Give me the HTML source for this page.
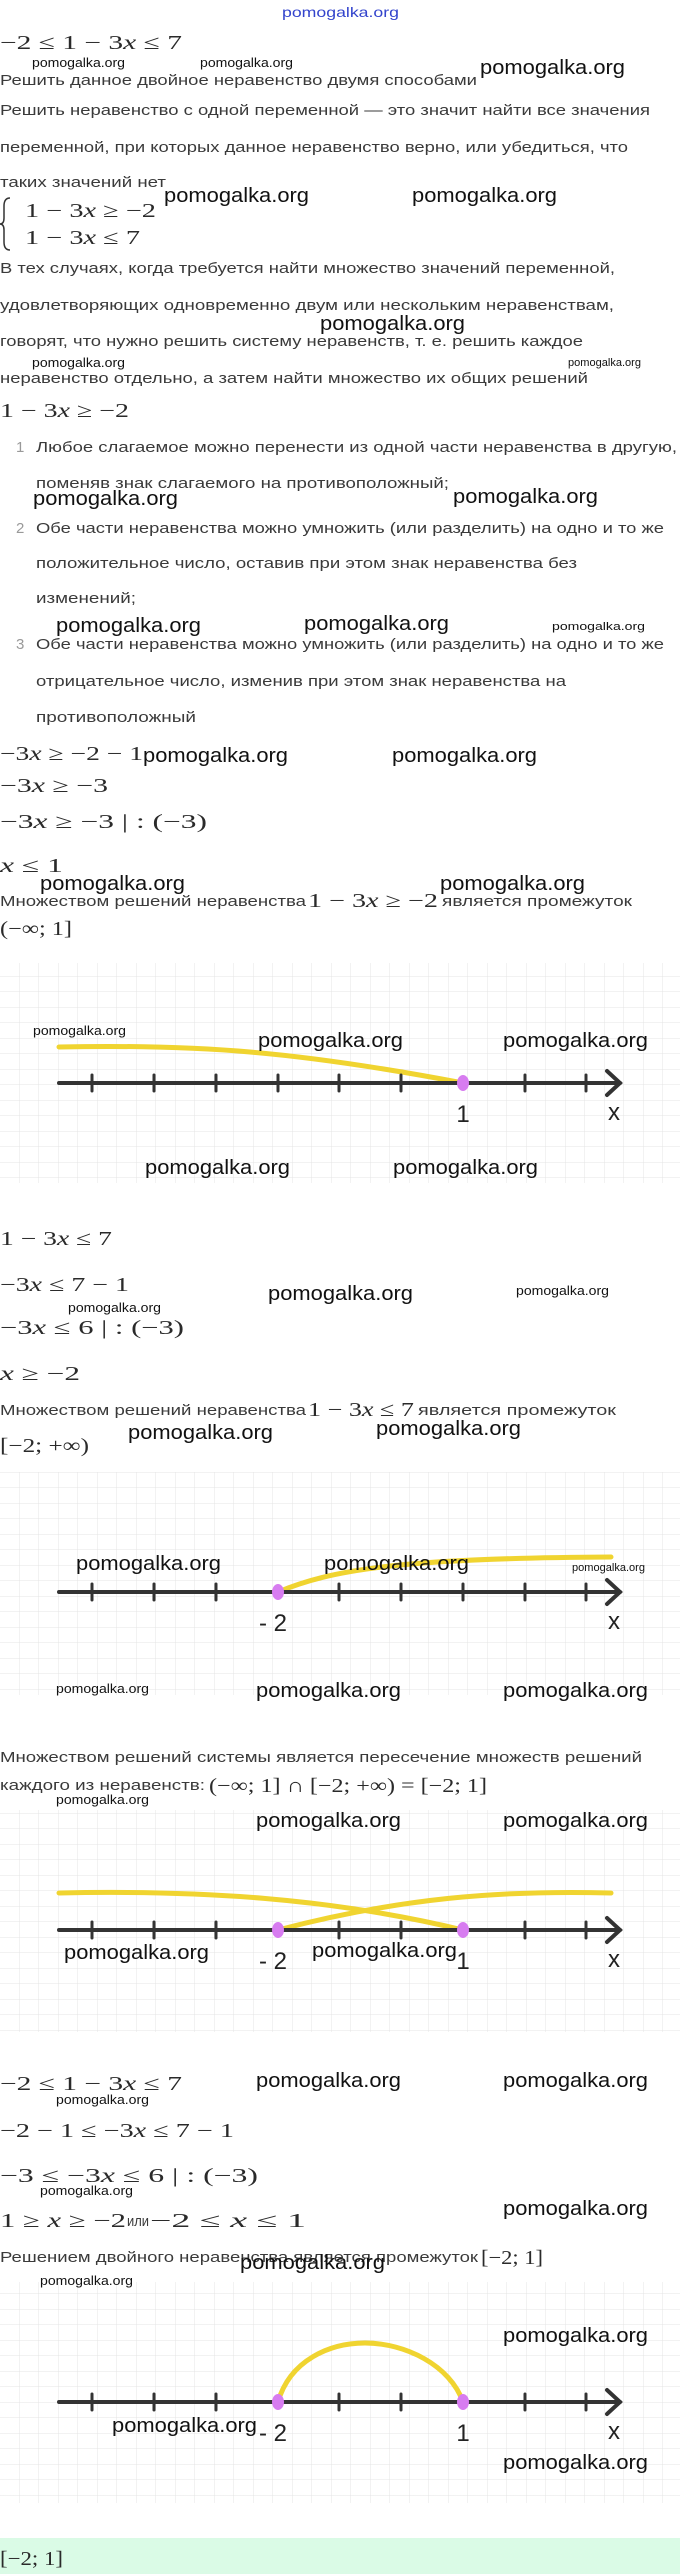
<!DOCTYPE html>
<html><head><meta charset="utf-8"><style>
html,body{margin:0;padding:0;background:#fff;}
svg{display:block}
.t{font-family:"Liberation Sans",sans-serif;font-size:15px;fill:#3a3a3a}
.m{font-family:"Liberation Serif",serif;font-size:20px;fill:#2a2a2a}
.i{font-style:italic}
.wb{font-family:"Liberation Sans",sans-serif;font-size:20px;fill:#111}
.ws{font-family:"Liberation Sans",sans-serif;font-size:13px;fill:#111}
.wx{font-family:"Liberation Sans",sans-serif;font-size:11px;fill:#111}
.n{font-family:"Liberation Sans",sans-serif;font-size:15px;fill:#999}
.lab{font-family:"Liberation Sans",sans-serif;font-size:24px;fill:#222}
</style></head><body>
<svg width="680" height="2574" viewBox="0 0 680 2574" xmlns="http://www.w3.org/2000/svg">
<defs>
<pattern id="g" width="19.5" height="15.5" patternUnits="userSpaceOnUse">
<path d="M19.5 0V15.5M0 15.5H19.5" stroke="#e4e4e4" stroke-width="1" fill="none"/>
</pattern>
</defs>
<rect width="680" height="2574" fill="#fff"/>

<text x="282" y="17" textLength="117" lengthAdjust="spacingAndGlyphs" font-family="Liberation Sans,sans-serif" font-size="14" fill="#3344cc">pomogalka.org</text>

<!-- top section -->
<text class="m" x="0" y="49" textLength="182" lengthAdjust="spacingAndGlyphs">−2 ≤ 1 − 3<tspan class="i">x</tspan> ≤ 7</text>
<text class="ws" x="32" y="67" textLength="93" lengthAdjust="spacingAndGlyphs">pomogalka.org</text>
<text class="ws" x="200" y="67" textLength="93" lengthAdjust="spacingAndGlyphs">pomogalka.org</text>
<text class="wb" x="480" y="74" textLength="145" lengthAdjust="spacingAndGlyphs">pomogalka.org</text>
<text class="t" x="0" y="85" textLength="477" lengthAdjust="spacingAndGlyphs">Решить данное двойное неравенство двумя способами</text>
<text class="t" x="0" y="115" textLength="650" lengthAdjust="spacingAndGlyphs">Решить неравенство с одной переменной — это значит найти все значения</text>
<text class="t" x="0" y="152" textLength="628" lengthAdjust="spacingAndGlyphs">переменной, при которых данное неравенство верно, или убедиться, что</text>
<text class="t" x="0" y="187" textLength="166" lengthAdjust="spacingAndGlyphs">таких значений нет</text>
<text class="wb" x="164" y="202" textLength="145" lengthAdjust="spacingAndGlyphs">pomogalka.org</text>
<text class="wb" x="412" y="202" textLength="145" lengthAdjust="spacingAndGlyphs">pomogalka.org</text>
<path d="M10 198 Q4 198 4 206 L4 218 Q4 224 0 224 Q4 224 4 230 L4 242 Q4 250 10 250" stroke="#333" stroke-width="1.5" fill="none"/>
<text class="m" x="25" y="217" textLength="131" lengthAdjust="spacingAndGlyphs">1 − 3<tspan class="i">x</tspan> ≥ −2</text>
<text class="m" x="25" y="244" textLength="115" lengthAdjust="spacingAndGlyphs">1 − 3<tspan class="i">x</tspan> ≤ 7</text>
<text class="t" x="0" y="273" textLength="615" lengthAdjust="spacingAndGlyphs">В тех случаях, когда требуется найти множество значений переменной,</text>
<text class="t" x="0" y="310" textLength="614" lengthAdjust="spacingAndGlyphs">удовлетворяющих одновременно двум или нескольким неравенствам,</text>
<text class="wb" x="320" y="330" textLength="145" lengthAdjust="spacingAndGlyphs">pomogalka.org</text>
<text class="t" x="0" y="346" textLength="583" lengthAdjust="spacingAndGlyphs">говорят, что нужно решить систему неравенств, т. е. решить каждое</text>
<text class="ws" x="32" y="367" textLength="93" lengthAdjust="spacingAndGlyphs">pomogalka.org</text>
<text class="wx" x="568" y="366" textLength="73" lengthAdjust="spacingAndGlyphs">pomogalka.org</text>
<text class="t" x="0" y="383" textLength="588" lengthAdjust="spacingAndGlyphs">неравенство отдельно, а затем найти множество их общих решений</text>
<text class="m" x="0" y="417" textLength="129" lengthAdjust="spacingAndGlyphs">1 − 3<tspan class="i">x</tspan> ≥ −2</text>

<text class="n" x="16" y="452">1</text>
<text class="t" x="36" y="452" textLength="641" lengthAdjust="spacingAndGlyphs">Любое слагаемое можно перенести из одной части неравенства в другую,</text>
<text class="t" x="36" y="488" textLength="413" lengthAdjust="spacingAndGlyphs">поменяв знак слагаемого на противоположный;</text>
<text class="wb" x="33" y="505" textLength="145" lengthAdjust="spacingAndGlyphs">pomogalka.org</text>
<text class="wb" x="453" y="503" textLength="145" lengthAdjust="spacingAndGlyphs">pomogalka.org</text>
<text class="n" x="16" y="533">2</text>
<text class="t" x="36" y="533" textLength="628" lengthAdjust="spacingAndGlyphs">Обе части неравенства можно умножить (или разделить) на одно и то же</text>
<text class="t" x="36" y="568" textLength="541" lengthAdjust="spacingAndGlyphs">положительное число, оставив при этом знак неравенства без</text>
<text class="t" x="36" y="603" textLength="100" lengthAdjust="spacingAndGlyphs">изменений;</text>
<text class="wb" x="56" y="632" textLength="145" lengthAdjust="spacingAndGlyphs">pomogalka.org</text>
<text class="wb" x="304" y="630" textLength="145" lengthAdjust="spacingAndGlyphs">pomogalka.org</text>
<text class="wx" x="552" y="630" textLength="93" lengthAdjust="spacingAndGlyphs">pomogalka.org</text>
<text class="n" x="16" y="649">3</text>
<text class="t" x="36" y="649" textLength="628" lengthAdjust="spacingAndGlyphs">Обе части неравенства можно умножить (или разделить) на одно и то же</text>
<text class="t" x="36" y="686" textLength="530" lengthAdjust="spacingAndGlyphs">отрицательное число, изменив при этом знак неравенства на</text>
<text class="t" x="36" y="722" textLength="160" lengthAdjust="spacingAndGlyphs">противоположный</text>

<text class="m" x="0" y="760" textLength="143" lengthAdjust="spacingAndGlyphs">−3<tspan class="i">x</tspan> ≥ −2 − 1</text>
<text class="wb" x="143" y="762" textLength="145" lengthAdjust="spacingAndGlyphs">pomogalka.org</text>
<text class="wb" x="392" y="762" textLength="145" lengthAdjust="spacingAndGlyphs">pomogalka.org</text>
<text class="m" x="0" y="792" textLength="108" lengthAdjust="spacingAndGlyphs">−3<tspan class="i">x</tspan> ≥ −3</text>
<text class="m" x="0" y="828" textLength="207" lengthAdjust="spacingAndGlyphs">−3<tspan class="i">x</tspan> ≥ −3 | : (−3)</text>
<text class="m" x="0" y="872" textLength="63" lengthAdjust="spacingAndGlyphs"><tspan class="i">x</tspan> ≤ 1</text>
<text class="wb" x="40" y="890" textLength="145" lengthAdjust="spacingAndGlyphs">pomogalka.org</text>
<text class="wb" x="440" y="890" textLength="145" lengthAdjust="spacingAndGlyphs">pomogalka.org</text>
<text class="t" x="0" y="906" textLength="306" lengthAdjust="spacingAndGlyphs">Множеством решений неравенства</text>
<text class="m" x="308" y="907" textLength="130" lengthAdjust="spacingAndGlyphs">1 − 3<tspan class="i">x</tspan> ≥ −2</text>
<text class="t" x="442" y="906" textLength="190" lengthAdjust="spacingAndGlyphs">является промежуток</text>
<text class="m" x="0" y="935" textLength="72" lengthAdjust="spacingAndGlyphs">(−∞; 1]</text>

<!-- chart 1 -->
<rect x="0" y="963" width="680" height="220" fill="url(#g)"/>
<path d="M59 1047 C200 1044 300 1052 463 1083" stroke="#f0d430" stroke-width="5" fill="none" stroke-linecap="round"/>
<g stroke="#333" stroke-width="3" stroke-linecap="round">
<line x1="59" y1="1083" x2="620" y2="1083" stroke-width="4"/>
<path d="M607 1071 L620 1083 L607 1095" fill="none" stroke-width="4"/>
<line x1="92" y1="1075" x2="92" y2="1091"/><line x1="154" y1="1075" x2="154" y2="1091"/><line x1="216" y1="1075" x2="216" y2="1091"/><line x1="278" y1="1075" x2="278" y2="1091"/><line x1="339" y1="1075" x2="339" y2="1091"/><line x1="401" y1="1075" x2="401" y2="1091"/><line x1="525" y1="1075" x2="525" y2="1091"/><line x1="586" y1="1075" x2="586" y2="1091"/>
</g>
<ellipse cx="463" cy="1083" rx="6" ry="8" fill="#d77cf0"/>
<text class="lab" x="463" y="1122" text-anchor="middle">1</text>
<text class="lab" x="614" y="1120" text-anchor="middle">x</text>
<text class="ws" x="33" y="1035" textLength="93" lengthAdjust="spacingAndGlyphs">pomogalka.org</text>
<text class="wb" x="258" y="1047" textLength="145" lengthAdjust="spacingAndGlyphs">pomogalka.org</text>
<text class="wb" x="503" y="1047" textLength="145" lengthAdjust="spacingAndGlyphs">pomogalka.org</text>
<text class="wb" x="145" y="1174" textLength="145" lengthAdjust="spacingAndGlyphs">pomogalka.org</text>
<text class="wb" x="393" y="1174" textLength="145" lengthAdjust="spacingAndGlyphs">pomogalka.org</text>

<text class="m" x="0" y="1245" textLength="112" lengthAdjust="spacingAndGlyphs">1 − 3<tspan class="i">x</tspan> ≤ 7</text>
<text class="m" x="0" y="1291" textLength="129" lengthAdjust="spacingAndGlyphs">−3<tspan class="i">x</tspan> ≤ 7 − 1</text>
<text class="wb" x="268" y="1300" textLength="145" lengthAdjust="spacingAndGlyphs">pomogalka.org</text>
<text class="ws" x="516" y="1295" textLength="93" lengthAdjust="spacingAndGlyphs">pomogalka.org</text>
<text class="ws" x="68" y="1312" textLength="93" lengthAdjust="spacingAndGlyphs">pomogalka.org</text>
<text class="m" x="0" y="1334" textLength="184" lengthAdjust="spacingAndGlyphs">−3<tspan class="i">x</tspan> ≤ 6 | : (−3)</text>
<text class="m" x="0" y="1380" textLength="80" lengthAdjust="spacingAndGlyphs"><tspan class="i">x</tspan> ≥ −2</text>
<text class="t" x="0" y="1415" textLength="306" lengthAdjust="spacingAndGlyphs">Множеством решений неравенства</text>
<text class="m" x="308" y="1416" textLength="106" lengthAdjust="spacingAndGlyphs">1 − 3<tspan class="i">x</tspan> ≤ 7</text>
<text class="t" x="418" y="1415" textLength="198" lengthAdjust="spacingAndGlyphs">является промежуток</text>
<text class="wb" x="128" y="1439" textLength="145" lengthAdjust="spacingAndGlyphs">pomogalka.org</text>
<text class="wb" x="376" y="1435" textLength="145" lengthAdjust="spacingAndGlyphs">pomogalka.org</text>
<text class="m" x="0" y="1452" textLength="89" lengthAdjust="spacingAndGlyphs">[−2; +∞)</text>

<!-- chart 2 -->
<rect x="0" y="1472" width="680" height="223" fill="url(#g)"/>
<path d="M278 1592 C330 1570 400 1558 611 1557" stroke="#f0d430" stroke-width="5" fill="none" stroke-linecap="round"/>
<g stroke="#333" stroke-width="3" stroke-linecap="round">
<line x1="59" y1="1592" x2="620" y2="1592" stroke-width="4"/>
<path d="M607 1580 L620 1592 L607 1604" fill="none" stroke-width="4"/>
<line x1="92" y1="1584" x2="92" y2="1600"/><line x1="154" y1="1584" x2="154" y2="1600"/><line x1="216" y1="1584" x2="216" y2="1600"/><line x1="339" y1="1584" x2="339" y2="1600"/><line x1="401" y1="1584" x2="401" y2="1600"/><line x1="463" y1="1584" x2="463" y2="1600"/><line x1="525" y1="1584" x2="525" y2="1600"/><line x1="586" y1="1584" x2="586" y2="1600"/>
</g>
<ellipse cx="278" cy="1592" rx="6" ry="8" fill="#d77cf0"/>
<text class="lab" x="273" y="1631" text-anchor="middle">- 2</text>
<text class="lab" x="614" y="1629" text-anchor="middle">x</text>
<text class="wb" x="76" y="1570" textLength="145" lengthAdjust="spacingAndGlyphs">pomogalka.org</text>
<text class="wb" x="324" y="1570" textLength="145" lengthAdjust="spacingAndGlyphs">pomogalka.org</text>
<text class="wx" x="572" y="1571" textLength="73" lengthAdjust="spacingAndGlyphs">pomogalka.org</text>
<text class="ws" x="56" y="1693" textLength="93" lengthAdjust="spacingAndGlyphs">pomogalka.org</text>
<text class="wb" x="256" y="1697" textLength="145" lengthAdjust="spacingAndGlyphs">pomogalka.org</text>
<text class="wb" x="503" y="1697" textLength="145" lengthAdjust="spacingAndGlyphs">pomogalka.org</text>

<text class="t" x="0" y="1762" textLength="642" lengthAdjust="spacingAndGlyphs">Множеством решений системы является пересечение множеств решений</text>
<text class="t" x="0" y="1790" textLength="205" lengthAdjust="spacingAndGlyphs">каждого из неравенств:</text>
<text class="m" x="209" y="1792" textLength="278" lengthAdjust="spacingAndGlyphs">(−∞; 1] ∩ [−2; +∞) = [−2; 1]</text>
<text class="ws" x="56" y="1804" textLength="93" lengthAdjust="spacingAndGlyphs">pomogalka.org</text>

<!-- chart 3 -->
<rect x="0" y="1810" width="680" height="222" fill="url(#g)"/>
<path d="M59 1893 C200 1890 330 1898 463 1930" stroke="#f0d430" stroke-width="5" fill="none" stroke-linecap="round"/>
<path d="M278 1930 C400 1898 500 1890 611 1893" stroke="#f0d430" stroke-width="5" fill="none" stroke-linecap="round"/>
<g stroke="#333" stroke-width="3" stroke-linecap="round">
<line x1="59" y1="1930" x2="620" y2="1930" stroke-width="4"/>
<path d="M607 1918 L620 1930 L607 1942" fill="none" stroke-width="4"/>
<line x1="92" y1="1922" x2="92" y2="1938"/><line x1="154" y1="1922" x2="154" y2="1938"/><line x1="216" y1="1922" x2="216" y2="1938"/><line x1="339" y1="1922" x2="339" y2="1938"/><line x1="401" y1="1922" x2="401" y2="1938"/><line x1="525" y1="1922" x2="525" y2="1938"/><line x1="586" y1="1922" x2="586" y2="1938"/>
</g>
<ellipse cx="278" cy="1930" rx="6" ry="8" fill="#d77cf0"/>
<ellipse cx="463" cy="1930" rx="6" ry="8" fill="#d77cf0"/>
<text class="lab" x="273" y="1969" text-anchor="middle">- 2</text>
<text class="lab" x="463" y="1969" text-anchor="middle">1</text>
<text class="lab" x="614" y="1967" text-anchor="middle">x</text>
<text class="wb" x="256" y="1827" textLength="145" lengthAdjust="spacingAndGlyphs">pomogalka.org</text>
<text class="wb" x="503" y="1827" textLength="145" lengthAdjust="spacingAndGlyphs">pomogalka.org</text>
<text class="wb" x="64" y="1959" textLength="145" lengthAdjust="spacingAndGlyphs">pomogalka.org</text>
<text class="wb" x="312" y="1957" textLength="145" lengthAdjust="spacingAndGlyphs">pomogalka.org</text>

<text class="m" x="0" y="2090" textLength="182" lengthAdjust="spacingAndGlyphs">−2 ≤ 1 − 3<tspan class="i">x</tspan> ≤ 7</text>
<text class="ws" x="56" y="2104" textLength="93" lengthAdjust="spacingAndGlyphs">pomogalka.org</text>
<text class="wb" x="256" y="2087" textLength="145" lengthAdjust="spacingAndGlyphs">pomogalka.org</text>
<text class="wb" x="503" y="2087" textLength="145" lengthAdjust="spacingAndGlyphs">pomogalka.org</text>
<text class="m" x="0" y="2137" textLength="234" lengthAdjust="spacingAndGlyphs">−2 − 1 ≤ −3<tspan class="i">x</tspan> ≤ 7 − 1</text>
<text class="m" x="0" y="2182" textLength="258" lengthAdjust="spacingAndGlyphs">−3 ≤ −3<tspan class="i">x</tspan> ≤ 6 | : (−3)</text>
<text class="ws" x="40" y="2195" textLength="93" lengthAdjust="spacingAndGlyphs">pomogalka.org</text>
<text class="wb" x="503" y="2215" textLength="145" lengthAdjust="spacingAndGlyphs">pomogalka.org</text>
<text class="m" x="0" y="2227" textLength="126" lengthAdjust="spacingAndGlyphs">1 ≥ <tspan class="i">x</tspan> ≥ −2</text>
<text class="t" x="127" y="2226" textLength="22" lengthAdjust="spacingAndGlyphs">или</text>
<text class="m" x="150" y="2227" textLength="156" lengthAdjust="spacingAndGlyphs">−2 ≤ <tspan class="i">x</tspan> ≤ 1</text>
<text class="t" x="0" y="2262" textLength="478" lengthAdjust="spacingAndGlyphs">Решением двойного неравенства является промежуток</text>
<text class="m" x="481" y="2264" textLength="62" lengthAdjust="spacingAndGlyphs">[−2; 1]</text>

<!-- chart 4 -->
<rect x="0" y="2282" width="680" height="221" fill="url(#g)"/>
<path d="M278 2402 C290 2360 330 2343 365 2343 C405 2343 450 2365 463 2402" stroke="#f0d430" stroke-width="5" fill="none" stroke-linecap="round"/>
<g stroke="#333" stroke-width="3" stroke-linecap="round">
<line x1="59" y1="2402" x2="620" y2="2402" stroke-width="4"/>
<path d="M607 2390 L620 2402 L607 2414" fill="none" stroke-width="4"/>
<line x1="92" y1="2394" x2="92" y2="2410"/><line x1="154" y1="2394" x2="154" y2="2410"/><line x1="216" y1="2394" x2="216" y2="2410"/><line x1="339" y1="2394" x2="339" y2="2410"/><line x1="401" y1="2394" x2="401" y2="2410"/><line x1="525" y1="2394" x2="525" y2="2410"/><line x1="586" y1="2394" x2="586" y2="2410"/>
</g>
<ellipse cx="278" cy="2402" rx="6" ry="8" fill="#d77cf0"/>
<ellipse cx="463" cy="2402" rx="6" ry="8" fill="#d77cf0"/>
<text class="lab" x="273" y="2441" text-anchor="middle">- 2</text>
<text class="lab" x="463" y="2441" text-anchor="middle">1</text>
<text class="lab" x="614" y="2439" text-anchor="middle">x</text>
<text class="ws" x="40" y="2285" textLength="93" lengthAdjust="spacingAndGlyphs">pomogalka.org</text>
<text class="wb" x="240" y="2269" textLength="145" lengthAdjust="spacingAndGlyphs">pomogalka.org</text>
<text class="wb" x="503" y="2342" textLength="145" lengthAdjust="spacingAndGlyphs">pomogalka.org</text>
<text class="wb" x="112" y="2432" textLength="145" lengthAdjust="spacingAndGlyphs">pomogalka.org</text>
<text class="wb" x="503" y="2469" textLength="145" lengthAdjust="spacingAndGlyphs">pomogalka.org</text>

<rect x="0" y="2538" width="680" height="36" fill="#dafbe6"/>
<text class="m" x="0" y="2565" textLength="63" lengthAdjust="spacingAndGlyphs">[−2; 1]</text>
</svg>
</body></html>
